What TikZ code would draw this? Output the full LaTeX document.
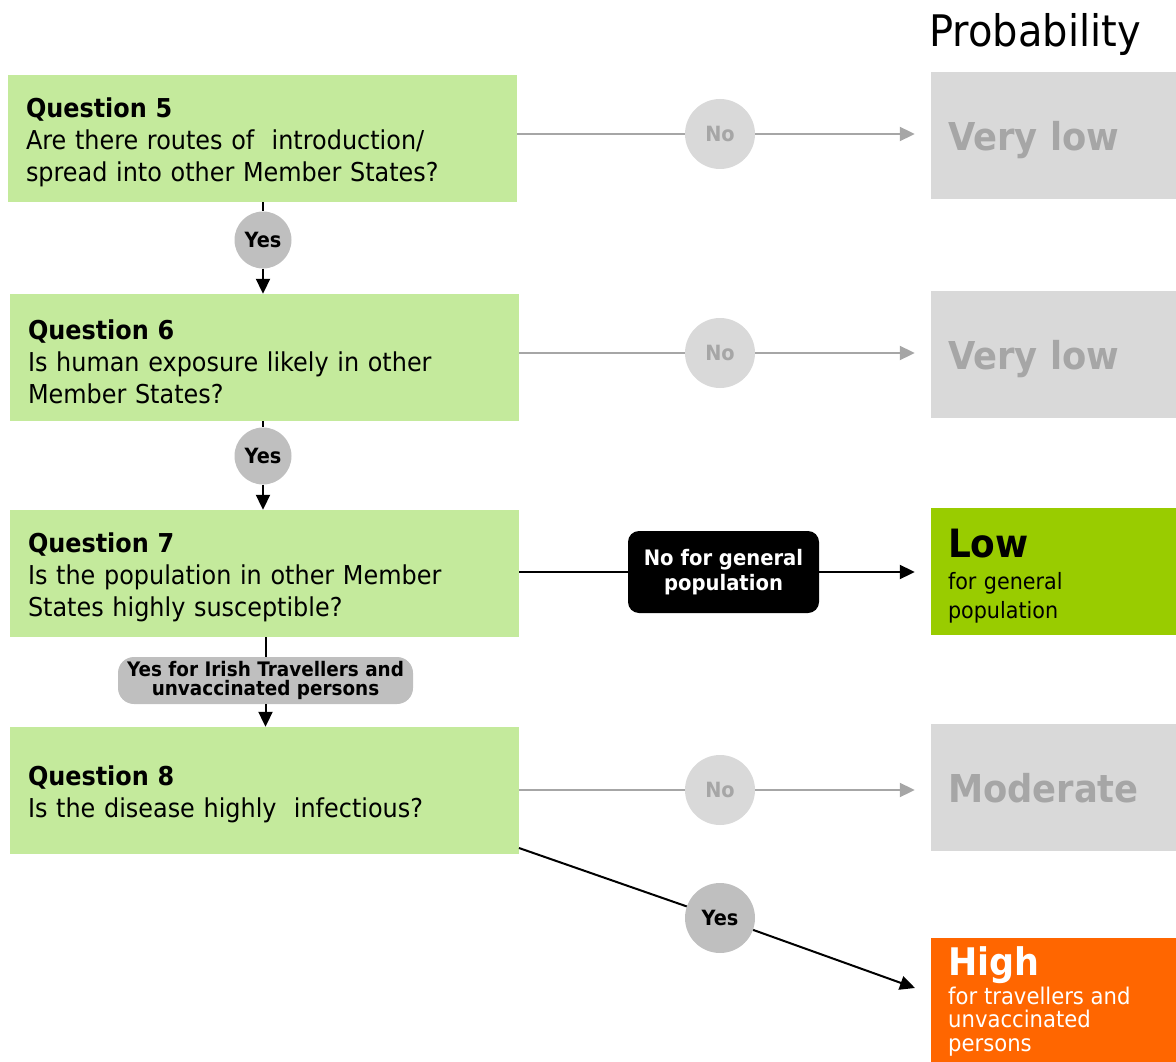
\documentclass[tikz,border=0pt]{standalone}
\usepackage{fontspec}
\setmainfont{DejaVu Sans}[FakeStretch=0.92]
\usetikzlibrary{arrows.meta,shapes.geometric}
\definecolor{qgreen}{HTML}{C4EA9C}
\definecolor{lgray}{HTML}{D9D9D9}
\definecolor{mgray}{HTML}{A6A6A6}
\definecolor{ygray}{HTML}{BFBFBF}
\definecolor{lowgreen}{HTML}{99CC00}
\definecolor{highorange}{HTML}{FF6600}
\newcommand{\qstrut}{\rule{0pt}{28pt}}
\tikzset{
  qbox/.style={rectangle, fill=qgreen, minimum height=127pt, text width=473pt, inner xsep=18pt, inner ysep=0pt, align=left, font=\fontsize{26}{32}\selectfont},
  pbox/.style={rectangle, minimum height=127pt, text width=211pt, inner xsep=17pt, inner ysep=0pt, align=left},
  bigprob/.style={text=mgray, text depth=0pt, font=\bfseries\fontsize{38.4}{40}\selectfont},
  nocirc/.style={circle, fill=lgray, minimum size=70pt, inner sep=0pt, text=mgray, font=\bfseries\fontsize{21}{22}\selectfont},
  yescirc/.style={circle, fill=ygray, minimum size=57pt, inner sep=0pt, font=\bfseries\fontsize{21}{22}\selectfont},
  grayarrow/.style={draw=mgray, line width=2pt, -{Triangle[length=15pt,width=14pt]}},
  grayline/.style={draw=mgray, line width=2pt},
  blackarrow/.style={draw=black, line width=2pt, -{Triangle[length=15pt,width=14pt]}},
  blackline/.style={draw=black, line width=2pt},
}
\begin{document}
\begin{tikzpicture}[x=1pt,y=-1pt]
\useasboundingbox (0,0) rectangle (1176,1062);
% title
\node[anchor=base west, inner sep=0pt, font=\fontsize{43.5}{46}\selectfont] (title) at (929,47) {Probability};
% question boxes
\node[qbox] (q5) at (262.5,138.5) {\qstrut\textbf{Question 5}\\Are there routes of\ \ introduction/\\spread into other Member States?};
\node[qbox] (q6) at (264.5,357.5) {\qstrut\textbf{Question 6}\\Is human exposure likely in other\\Member States?};
\node[qbox] (q7) at (264.5,573.5) {\qstrut\textbf{Question 7}\\Is the population in other Member\\States highly susceptible?};
\node[qbox] (q8) at (264.5,790.5) {\qstrut\textbf{Question 8}\\Is the disease highly\ \ infectious?};
% probability boxes
\node[pbox, fill=lgray, bigprob] (vl1) at (1053.5,135.5) {Very low};
\node[pbox, fill=lgray, bigprob] (vl2) at (1053.5,354.5) {Very low};
\node[pbox, fill=lowgreen, font=\fontsize{22.5}{29}\selectfont] (low) at (1053.5,571) {\rule{0pt}{38pt}{\bfseries\fontsize{39}{40}\selectfont Low}\\[3pt]for general\\population};
\node[pbox, fill=lgray, bigprob] (mod) at (1053.5,787.5) {Moderate};
\node[pbox, fill=highorange, minimum height=124pt, anchor=north] (high) at (1053.5,938) {};
\node[anchor=north west, inner sep=0pt, text=white, align=left, font=\fontsize{23}{23.5}\selectfont] (hightxt) at (948,946) {{\bfseries\fontsize{38}{40}\selectfont High}\\[2.5pt]for travellers and\\unvaccinated\\persons};
% label circles and boxes
\node[nocirc] (no1) at (720,134) {No};
\node[nocirc] (no2) at (720,353) {No};
\node[nocirc] (no4) at (720,790) {No};
\node[yescirc] (yes1) at (263,240) {Yes};
\node[yescirc] (yes2) at (263,456) {Yes};
\node[yescirc, minimum size=70pt] (yes3) at (720,918) {Yes};
\node[rectangle, rounded corners=11pt, fill=black, text=white, minimum width=191pt, minimum height=82pt, inner sep=0pt, align=center, font=\bfseries\fontsize{21.3}{25}\selectfont] (nogen) at (723.5,572) {No for general\\population};
\node[rectangle, rounded corners=16pt, fill=ygray, minimum width=295pt, minimum height=47pt, inner sep=0pt, align=center, font=\bfseries\fontsize{20}{19}\selectfont] (pill) at (265.5,680.5) {Yes for Irish Travellers and\\unvaccinated persons};
% connectors: no branches
\draw[grayline] (q5.east |- no1) -- (no1);
\draw[grayarrow] (no1) -- ([xshift=-16pt]vl1.west |- no1);
\draw[grayline] (q6.east |- no2) -- (no2);
\draw[grayarrow] (no2) -- ([xshift=-16pt]vl2.west |- no2);
\draw[blackline] (q7.east |- nogen) -- (nogen);
\draw[blackarrow] (nogen) -- ([xshift=-16pt]low.west |- nogen);
\draw[grayline] (q8.east |- no4) -- (no4);
\draw[grayarrow] (no4) -- ([xshift=-16pt]mod.west |- no4);
% connectors: yes branches
\draw[blackline] (q5.south -| yes1) -- (yes1);
\draw[blackarrow] (yes1) -- (q6.north -| yes1);
\draw[blackline] (q6.south -| yes2) -- (yes2);
\draw[blackarrow] (yes2) -- (q7.north -| yes2);
\draw[blackline] (q7.south -| pill) -- (pill);
\draw[blackarrow] (pill) -- (q8.north -| pill);
\coordinate (d1) at (519,848);
\coordinate (d2) at (915,988);
\draw[blackline] (d1) -- (yes3);
\draw[blackarrow] (yes3) -- (d2);
\end{tikzpicture}
\end{document}
